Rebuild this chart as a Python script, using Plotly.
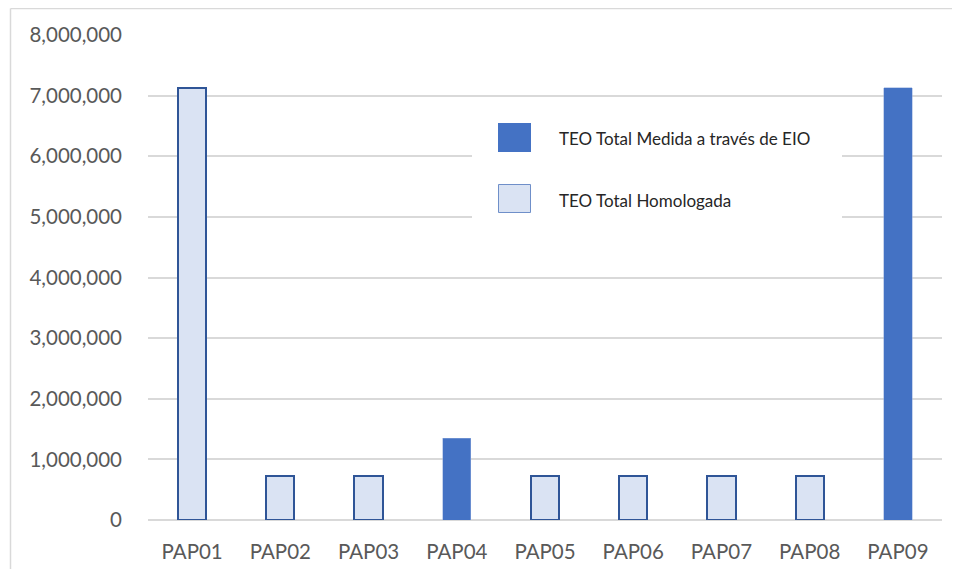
import plotly.graph_objects as go

categories = ["PAP01", "PAP02", "PAP03", "PAP04", "PAP05", "PAP06", "PAP07", "PAP08", "PAP09"]
medida_eio = [None, None, None, 1350000, None, None, None, None, 7130000]
homologada = [7130000, 720000, 720000, None, 720000, 720000, 720000, 720000, None]
y_ticks = [0, 1000000, 2000000, 3000000, 4000000, 5000000, 6000000, 7000000, 8000000]
series_names = ["TEO Total Medida a través de EIO", "TEO Total Homologada"]

DARK = "#4472c4"
LIGHT = "#dae3f3"
EDGE = "#2f5597"
FONT = "Lato"

fig = go.Figure()
fig.add_trace(go.Bar(x=categories, y=medida_eio, name=series_names[0],
                     marker=dict(color=DARK, line=dict(color="#8faadc", width=0.5))))
fig.add_trace(go.Bar(x=categories, y=homologada, name=series_names[1],
                     marker=dict(color=LIGHT, line=dict(color=EDGE, width=2))))

# page body has an 8px margin; work in reference pixel coordinates and shift
OFF = 8
W, H = 960 - 2 * OFF, 577 - 2 * OFF
L, T = 148 - OFF, 35 - OFF
R = W - (942 - OFF)
B = H - (520 - OFF)
pw, ph = W - L - R, H - T - B

def px(x):
    return (x - OFF - L) / pw

def py(y):
    return (H - B - (y - OFF)) / ph

shapes = [
    dict(type="line", xref="paper", yref="paper", x0=px(10.5), x1=px(960), y0=py(8.5), y1=py(8.5),
         line=dict(color="#d9d9d9", width=1.5)),
    dict(type="line", xref="paper", yref="paper", x0=px(10.5), x1=px(10.5), y0=py(8.5), y1=py(577),
         line=dict(color="#d9d9d9", width=1.5)),
    dict(type="rect", xref="paper", yref="paper", x0=px(472), x1=px(842), y0=py(106), y1=py(234),
         fillcolor="white", line=dict(width=0), layer="above"),
    dict(type="rect", xref="paper", yref="paper", x0=px(498), x1=px(531), y0=py(123), y1=py(152),
         fillcolor=DARK, line=dict(width=0), layer="above"),
    dict(type="rect", xref="paper", yref="paper", x0=px(498.5), x1=px(530.5), y0=py(184.5), y1=py(212.5),
         fillcolor=LIGHT, line=dict(color="#6f8fc9", width=1), layer="above"),
]
annotations = [
    dict(xref="paper", yref="paper", x=px(557), y=py(138), xanchor="left", yanchor="middle",
         text=series_names[0], showarrow=False, font=dict(family=FONT, size=17, color="#262626")),
    dict(xref="paper", yref="paper", x=px(557), y=py(200), xanchor="left", yanchor="middle",
         text=series_names[1], showarrow=False, font=dict(family=FONT, size=17, color="#262626")),
]

fig.update_layout(
    width=W, height=H,
    margin=dict(l=L, r=R, t=T, b=B, pad=0, autoexpand=False),
    paper_bgcolor="white", plot_bgcolor="white",
    barmode="stack", bargap=0.68,
    showlegend=False,
    font=dict(family=FONT, size=20, color="#595959"),
    xaxis=dict(showgrid=False, showline=False, ticks="", tickfont=dict(size=20.5, color="#595959"),
               ticklabelstandoff=17, automargin=False),
    yaxis=dict(range=[0, 8000000], tickvals=y_ticks, tickformat=",d", showgrid=True,
               gridcolor="#d9d9d9", gridwidth=1.5, zeroline=True, zerolinecolor="#d9d9d9",
               zerolinewidth=1.5, showline=False, ticks="", ticklabelstandoff=25,
               tickfont=dict(size=20.5, color="#595959"), automargin=False),
    shapes=shapes, annotations=annotations,
)

fig.write_html("out.html")
